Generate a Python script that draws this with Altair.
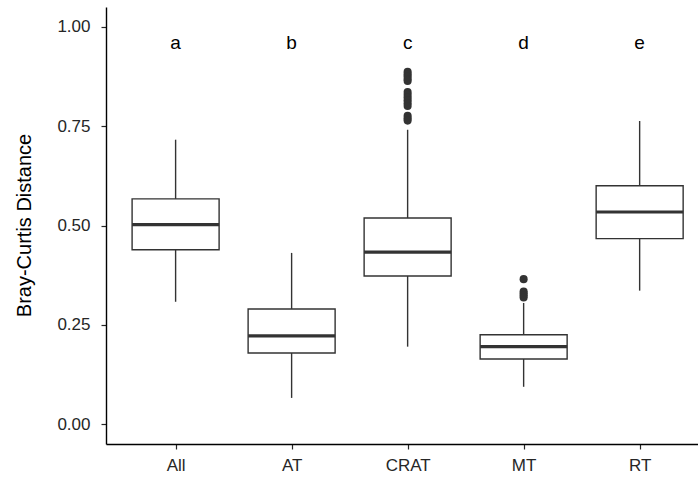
import altair as alt
import pandas as pd

# ---- data ----
categories = ["All", "AT", "CRAT", "MT", "RT"]
whisker_low = [0.308, 0.066, 0.195, 0.094, 0.336]
q1 = [0.439, 0.179, 0.373, 0.164, 0.467]
median = [0.502, 0.222, 0.433, 0.195, 0.534]
q3 = [0.567, 0.290, 0.519, 0.225, 0.600]
whisker_high = [0.716, 0.431, 0.741, 0.305, 0.763]

outlier_group = ["CRAT"] * 14 + ["MT"] * 5
outlier_value = [0.887, 0.881, 0.875, 0.869, 0.864, 0.836, 0.829, 0.822,
                 0.815, 0.808, 0.801, 0.776, 0.770, 0.764,
                 0.365, 0.334, 0.329, 0.324, 0.319]

letters = ["a", "b", "c", "d", "e"]
letter_y = 0.96

y_ticks = [0.0, 0.25, 0.5, 0.75, 1.0]

# ---- tables ----
pos = list(range(1, len(categories) + 1))
box = pd.DataFrame({"cat": categories, "pos": pos, "wlo": whisker_low, "q1": q1,
                    "med": median, "q3": q3, "whi": whisker_high})
box["lo"] = box["pos"] - 0.375
box["hi"] = box["pos"] + 0.375

out_df = pd.DataFrame({"cat": outlier_group, "value": outlier_value})
out_df["pos"] = out_df["cat"].map({c: i + 1 for i, c in enumerate(categories)})

let_df = pd.DataFrame({"pos": pos, "letter": letters, "y": [letter_y] * len(letters)})

FONT = "Liberation Sans"
INK = "#262626"
x_scale = alt.Scale(domain=[0.4, 5.503], nice=False, zero=False)
y_scale = alt.Scale(domain=[-0.05, 1.05], nice=False, zero=False)

label_expr = "[" + ",".join("'%s'" % c for c in categories) + "][datum.value-1]"
x_axis = alt.Axis(values=pos, labelExpr=label_expr, title=None, grid=False,
                  tickSize=5, labelPadding=8, labelFontSize=17, labelColor=INK,
                  labelFont=FONT, domainColor="black", domainWidth=1.4,
                  tickColor=INK, tickWidth=1.2)
y_axis = alt.Axis(values=y_ticks, format=".2f", title="Bray-Curtis Distance", grid=False,
                  tickSize=5, labelPadding=11, labelFontSize=17, labelColor=INK,
                  labelFont=FONT, domainColor="black", domainWidth=1.4,
                  tickColor=INK, tickWidth=1.2,
                  titleFont=FONT, titleFontSize=20, titleFontWeight="normal",
                  titleColor="black", titleAngle=270, titleX=-82, titleY=218,
                  titleAlign="center", titleBaseline="middle")


def X(field):
    return alt.X(field, type="quantitative", scale=x_scale, axis=x_axis)


def Y(field):
    return alt.Y(field, type="quantitative", scale=y_scale, axis=y_axis)


base = alt.Chart(box)
whisk_hi = base.mark_rule(color="#333333", strokeWidth=1.4).encode(
    x=X("pos"), y=Y("q3"), y2="whi:Q")
whisk_lo = base.mark_rule(color="#333333", strokeWidth=1.4).encode(
    x=X("pos"), y=Y("wlo"), y2="q1:Q")
boxes = base.mark_bar(fill="white", stroke="#333333", strokeWidth=1.4).encode(
    x=X("lo"), x2="hi:Q", y=Y("q1"), y2="q3:Q")
med = base.mark_rule(color="#333333", strokeWidth=3.2).encode(
    x=X("lo"), x2="hi:Q", y=Y("med"))
outs = alt.Chart(out_df).mark_circle(color="#333333", size=65, opacity=1).encode(
    x=X("pos"), y=Y("value"))
lets = alt.Chart(let_df).mark_text(fontSize=19, font=FONT, color="black",
                                   baseline="middle", align="center").encode(
    x=X("pos"), y=Y("y"), text="letter:N")

chart = alt.layer(whisk_hi, whisk_lo, boxes, med, outs, lets).properties(
    width=592, height=437,
    padding={"left": 106, "top": 7, "right": 0, "bottom": 39},
    autosize=alt.AutoSizeParams(type="none"),
    background="white",
).configure_view(stroke=None)

chart.save("out.html", embed_options={"renderer": "svg", "actions": False})
